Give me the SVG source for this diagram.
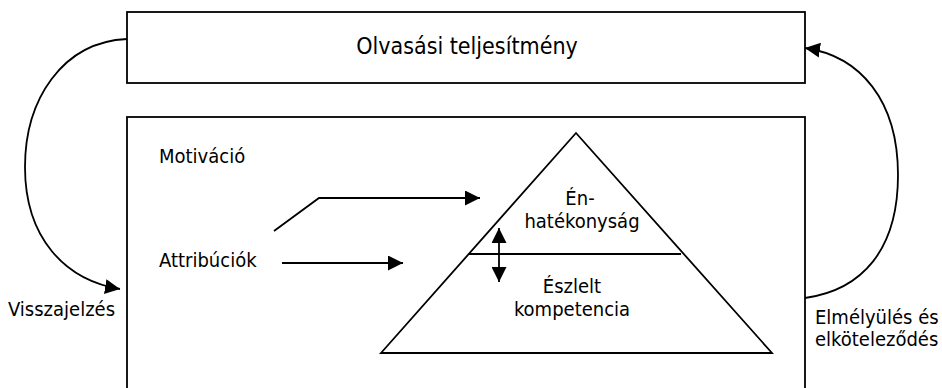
<svg xmlns="http://www.w3.org/2000/svg" width="942" height="388" viewBox="0 0 942 388">
<style>
.box{fill:#fff;stroke:#000;stroke-width:1.8}
.ln{fill:none;stroke:#000;stroke-width:1.8}
text{font-family:"DejaVu Sans Condensed","DejaVu Sans",sans-serif;font-size:20px;fill:#000}
.big{font-size:23px}
.c{text-anchor:middle}
</style>
<defs>
<marker id="ah" viewBox="0 0 10 10" refX="10" refY="5" markerWidth="15" markerHeight="15" markerUnits="userSpaceOnUse" orient="auto-start-reverse">
<path d="M0,0 L10,5 L0,10 Z" fill="#000"/>
</marker>
</defs>
<rect width="942" height="388" fill="#fff"/>
<g id="olvasasi">
<rect class="box" x="127" y="12" width="678" height="71"/>
<text class="big c" x="467" y="54">Olvasási teljesítmény</text>
</g>
<g id="motivacio">
<rect class="box" x="127" y="117" width="678" height="300"/>
<text x="159" y="163">Motiváció</text>
</g>
<g id="attribuciok">
<text x="159" y="267">Attribúciók</text>
</g>
<g id="piramis">
<path class="ln" d="M576,133 L772,353 L381,353 Z"/>
<line class="ln" x1="469" y1="254" x2="681" y2="254"/>
<text class="c" x="580" y="205">Én-</text>
<text class="c" x="582" y="228">hatékonyság</text>
<text class="c" x="572" y="293">Észlelt</text>
<text class="c" x="572" y="316">kompetencia</text>
</g>
<g id="visszajelzes">
<text x="8" y="316">Visszajelzés</text>
</g>
<g id="elmelyules">
<text x="815" y="324">Elmélyülés és</text>
<text x="815" y="346">elköteleződés</text>
</g>
<g id="connectors">
<path class="ln" d="M127,39 C62,42 25,100 25,167 C25,238 65,280 120,289" marker-end="url(#ah)"/>
<path class="ln" d="M805,298 C862,290 898,250 898,175 C898,100 860,56 805,48" marker-end="url(#ah)"/>
<path class="ln" d="M274,231 L319,198 L480,198" marker-end="url(#ah)"/>
<path class="ln" d="M282,263 L403,263" marker-end="url(#ah)"/>
<path class="ln" d="M499,228 L499,282" marker-start="url(#ah)" marker-end="url(#ah)"/>
</g>
</svg>
